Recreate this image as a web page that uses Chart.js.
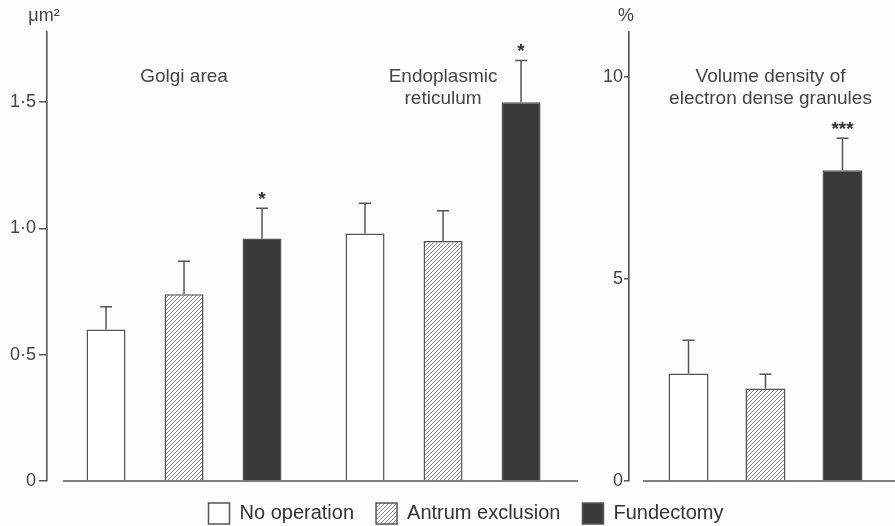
<!DOCTYPE html>
<html>
<head>
<meta charset="utf-8">
<script src="https://cdn.jsdelivr.net/npm/chart.js@4.4.0/dist/chart.umd.min.js"></script>
<style>
  html, body { margin: 0; padding: 0; background: #fdfdfd; overflow: hidden; }
  #wrap { position: relative; width: 895px; height: 526px; overflow: hidden; }
  canvas { position: absolute; left: 0; top: 0; }
</style>
</head>
<body>
<div id="wrap">
  <canvas id="leftChart" width="895" height="526"></canvas>
  <canvas id="rightChart" width="902" height="534"></canvas>
</div>
<script>
// groups and panels
const groups = ["No operation", "Antrum exclusion", "Fundectomy"];
const leftPanels = ["Golgi area", "Endoplasmic reticulum"];

// left panel (µm²): Golgi area, endoplasmic reticulum
const noOpLeft = [0.60, 0.98];
const antrumLeft = [0.74, 0.95];
const fundLeft = [0.96, 1.50];
const noOpLeftSE = [0.09, 0.12];
const antrumLeftSE = [0.13, 0.12];
const fundLeftSE = [0.12, 0.165];
const fundLeftStars = ["*", "*"];
const leftTicks = [0, 0.5, 1.0, 1.5];

// right panel (%): volume density of electron dense granules
const densityMeans = [2.66, 2.29, 7.69];
const densitySE = [0.82, 0.35, 0.79];
const densityStars = ["", "", "***"];
const rightTicks = [0, 5, 10];

const ink = "#555";
const dark = "#3a3a3a";
const font = "'Liberation Sans', Arial, sans-serif";

function makeHatch() {
  const c = document.createElement("canvas");
  c.width = 4; c.height = 4;
  const g = c.getContext("2d");
  g.fillStyle = "#fff";
  g.fillRect(0, 0, 4, 4);
  g.strokeStyle = "#666";
  g.lineWidth = 0.8;
  g.beginPath();
  g.moveTo(0, 4); g.lineTo(4, 0);
  g.moveTo(-1, 1); g.lineTo(1, -1);
  g.moveTo(3, 5); g.lineTo(5, 3);
  g.stroke();
  return g.createPattern(c, "repeat");
}
const hatch = makeHatch();
const fills = ["#fff", hatch, dark];

// 1·5 style decimals for the left axis
function fmtDot(v) {
  return v === 0 ? "0" : v.toFixed(1).replace(".", "·");
}
function fmtInt(v) {
  return String(v);
}

// error bars + significance stars
const errorBars = {
  id: "errorBars",
  afterDatasetsDraw(chart) {
    const ctx = chart.ctx;
    const y = chart.scales.y;
    ctx.save();
    ctx.strokeStyle = ink;
    ctx.lineWidth = 1.5;
    ctx.fillStyle = "#333";
    ctx.font = "bold 19px " + font;
    ctx.textAlign = "center";
    ctx.textBaseline = "middle";
    chart.data.datasets.forEach((ds, di) => {
      chart.getDatasetMeta(di).data.forEach((bar, i) => {
        const raw = ds.data[i];
        const v = typeof raw === "object" ? raw.y : raw;
        const top = y.getPixelForValue(v + ds.errors[i]);
        ctx.beginPath();
        ctx.moveTo(bar.x, bar.y);
        ctx.lineTo(bar.x, top);
        ctx.moveTo(bar.x - 6, top);
        ctx.lineTo(bar.x + 6, top);
        ctx.stroke();
        if (ds.stars && ds.stars[i]) ctx.fillText(ds.stars[i], bar.x, top - 9);
      });
    });
    ctx.restore();
  }
};

// x baseline with a small gap from the y axis
const baseline = {
  id: "baseline",
  afterDraw(chart, args, opts) {
    const ctx = chart.ctx;
    const a = chart.chartArea;
    const y0 = chart.scales.y.getPixelForValue(0);
    ctx.save();
    ctx.strokeStyle = ink;
    ctx.lineWidth = 1.5;
    ctx.beginPath();
    ctx.moveTo(a.left + opts.gap, y0);
    ctx.lineTo(a.right, y0);
    ctx.stroke();
    ctx.restore();
  }
};

// panel titles and units
const labels = {
  id: "labels",
  afterDraw(chart, args, opts) {
    const ctx = chart.ctx;
    const x = chart.scales.x;
    const a = chart.chartArea;
    ctx.save();
    ctx.fillStyle = "#444";
    ctx.textAlign = "center";
    ctx.textBaseline = "middle";
    ctx.font = "19px " + font;
    opts.titles.forEach(t => {
      const cx = x.getPixelForValue(t.at) + (t.dx || 0);
      t.lines.forEach((line, k) => ctx.fillText(line, cx, 77 + k * 22));
    });
    ctx.font = "18px " + font;
    ctx.fillText(opts.unit, a.left - 3, 16);
    ctx.restore();
  }
};

function yAxis(ticks, max, width, fmt, tickLen, pad) {
  return {
    min: 0,
    max: max,
    afterBuildTicks: s => { s.ticks = ticks.map(v => ({ value: v })); },
    afterFit: s => { s.width = width; },
    border: { display: true, color: ink, width: 1.6 },
    grid: { display: true, drawOnChartArea: false, drawTicks: true, tickLength: tickLen, color: ink, lineWidth: 1.5 },
    ticks: { color: "#444", font: { family: font, size: 18 }, padding: pad, callback: v => fmt(v) }
  };
}

new Chart(document.getElementById("leftChart"), {
  type: "bar",
  data: {
    datasets: [noOpLeft, antrumLeft, fundLeft].map((vals, k) => ({
      label: groups[k],
      data: vals.map((v, i) => ({ x: i, y: v })),
      errors: [noOpLeftSE, antrumLeftSE, fundLeftSE][k],
      stars: k === 2 ? fundLeftStars : null,
      backgroundColor: fills[k],
      borderColor: ink,
      borderWidth: 1.5,
      barPercentage: 0.5,
      categoryPercentage: 0.9035
    }))
  },
  options: {
    responsive: false,
    animation: false,
    layout: { padding: { left: 0, right: 317, top: 32, bottom: 45 } },
    plugins: {
      legend: { display: false },
      tooltip: { enabled: false },
      baseline: { gap: 16 },
      labels: {
        unit: "μm²",
        titles: [
          { at: 0, lines: [leftPanels[0]] },
          { at: 1, lines: ["Endoplasmic", "reticulum"] }
        ]
      }
    },
    scales: {
      x: {
        type: "linear",
        display: false,
        offset: false,
        bounds: "data",
        grid: { offset: false },
        min: -0.529,
        max: 1.521,
        afterBuildTicks: s => { s.ticks = [{ value: 0 }, { value: 1 }]; }
      },
      y: yAxis(leftTicks, 1.778, 47, fmtDot, 8, 3)
    }
  },
  plugins: [errorBars, baseline, labels]
});

new Chart(document.getElementById("rightChart"), {
  type: "bar",
  data: {
    labels: ["Volume density of electron dense granules"],
    datasets: groups.map((g, k) => ({
      label: g,
      data: [densityMeans[k]],
      errors: [densitySE[k]],
      stars: [densityStars[k]],
      backgroundColor: fills[k],
      borderColor: ink,
      borderWidth: 1.5,
      barPercentage: 0.52,
      categoryPercentage: 0.846
    }))
  },
  options: {
    responsive: false,
    animation: false,
    layout: { padding: { left: 30, right: 0, top: 32, bottom: 0 } },
    plugins: {
      legend: {
        position: "bottom",
        labels: {
          color: "#333",
          font: { family: font, size: 20 },
          boxWidth: 21,
          boxHeight: 21,
          padding: 22
        }
      },
      tooltip: { enabled: false },
      baseline: { gap: 14 },
      labels: {
        unit: "%",
        titles: [{ at: 0, dx: 5, lines: ["Volume density of", "electron dense granules"] }]
      }
    },
    scales: {
      x: { display: false },
      y: yAxis(rightTicks, 11.11, 599, fmtInt, 5, 1)
    }
  },
  plugins: [errorBars, baseline, labels]
});
</script>
</body>
</html>
